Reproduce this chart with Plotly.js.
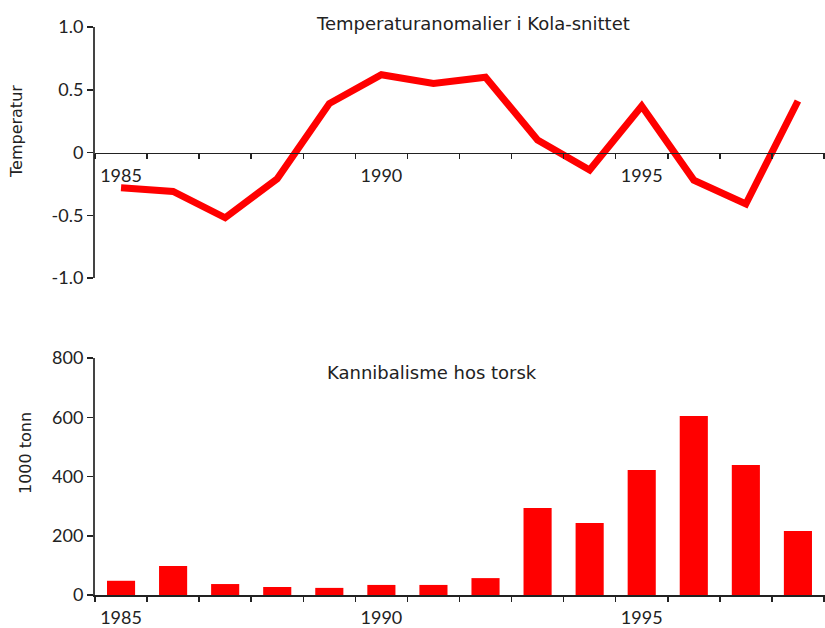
<!DOCTYPE html>
<html>
<head>
<meta charset="utf-8">
<script src="https://cdn.plot.ly/plotly-3.0.1.min.js"></script>
<style>
html,body{margin:0;padding:0;background:#fff;}
#chart{width:825px;height:628px;}
</style>
</head>
<body>
<div id="chart"></div>
<script>
// Data
const years = [1985,1986,1987,1988,1989,1990,1991,1992,1993,1994,1995,1996,1997,1998];
const tempAnomaly = [-0.28,-0.31,-0.52,-0.21,0.39,0.62,0.55,0.60,0.10,-0.14,0.37,-0.22,-0.41,0.41];
const cannibalism = [48,98,37,27,24,34,34,57,294,243,422,604,439,216];
const yearTicks = [1985,1990,1995];
const tempTickVals = [-1,-0.5,0,0.5,1];
const tempTickText = ['-1.0','-0.5','0','0.5','1.0'];
const cannTickVals = [0,200,400,600,800];
const topTitle = 'Temperaturanomalier i Kola-snittet';
const bottomTitle = 'Kannibalisme hos torsk';
const topYTitle = 'Temperatur';
const bottomYTitle = '1000 tonn';

const FONT = 'Lato, "Open Sans", sans-serif';
const TFONT = '"DejaVu Sans", Verdana, sans-serif';
const W = 825, H = 628;
const xDom = [95/W, 1];
const topDom = [(H-278)/H, (H-27)/H];
const botDom = [(H-595)/H, (H-358)/H];
const xRange = [1984.5, 1998.52];
const axisColor = '#222';

const traces = [
  {x: years, y: tempAnomaly, type: 'scatter', mode: 'lines', xaxis: 'x', yaxis: 'y',
   line: {color: '#ff0000', width: 7, shape: 'linear'}, hoverinfo: 'x+y'},
  {x: years, y: cannibalism, type: 'bar', xaxis: 'x2', yaxis: 'y2',
   marker: {color: '#ff0000'}, width: 0.54}
];

function xAxis(extra){
  return Object.assign({
    domain: xDom, range: xRange, type: 'linear',
    showline: true, linecolor: axisColor, linewidth: 1.5,
    tickmode: 'array', tickvals: yearTicks, ticks: '',
    ticklabelstandoff: 6,
    minor: {ticks: 'outside', tick0: 1984.5, dtick: 1, ticklen: 5, tickwidth: 1.5, tickcolor: axisColor, showgrid: false},
    tickfont: {family: FONT, size: 18, color: '#222'},
    showgrid: false, zeroline: false, fixedrange: true
  }, extra);
}

function yAxis(extra){
  return Object.assign({
    tickmode: 'array',
    ticks: 'outside', ticklen: 6, tickwidth: 1.5, tickcolor: axisColor,
    showline: true, linecolor: '#444', linewidth: 2,
    showgrid: false, zeroline: false,
    tickfont: {family: FONT, size: 18, color: '#222'},
    fixedrange: true
  }, extra);
}

const layout = {
  width: W, height: H,
  margin: {l: 0, r: 0, t: 0, b: 0},
  paper_bgcolor: '#fff', plot_bgcolor: 'rgba(0,0,0,0)',
  showlegend: false,
  font: {family: FONT, color: '#222'},
  xaxis: xAxis({anchor: 'free', position: (topDom[0]+topDom[1])/2}),
  yaxis: yAxis({domain: topDom, range: [-1, 1], anchor: 'x',
    tickvals: tempTickVals, ticktext: tempTickText}),
  xaxis2: xAxis({anchor: 'y2'}),
  yaxis2: yAxis({domain: botDom, range: [0, 800], anchor: 'x2',
    tickvals: cannTickVals}),
  annotations: [
    {text: topTitle, xref: 'paper', yref: 'paper', x: 473/W, y: (H-24)/H,
     xanchor: 'center', yanchor: 'middle', showarrow: false,
     font: {family: TFONT, size: 18, color: '#222'}},
    {text: bottomTitle, xref: 'paper', yref: 'paper', x: 432/W, y: (H-373)/H,
     xanchor: 'center', yanchor: 'middle', showarrow: false,
     font: {family: TFONT, size: 18, color: '#222'}},
    {text: topYTitle, xref: 'paper', yref: 'paper', x: 17/W, y: (H-132)/H,
     xanchor: 'center', yanchor: 'middle', textangle: -90, showarrow: false,
     font: {family: TFONT, size: 16, color: '#222'}},
    {text: bottomYTitle, xref: 'paper', yref: 'paper', x: 25/W, y: (H-453)/H,
     xanchor: 'center', yanchor: 'middle', textangle: -90, showarrow: false,
     font: {family: TFONT, size: 16, color: '#222'}}
  ]
};

Plotly.newPlot('chart', traces, layout, {displayModeBar: false, staticPlot: true});
</script>
</body>
</html>
